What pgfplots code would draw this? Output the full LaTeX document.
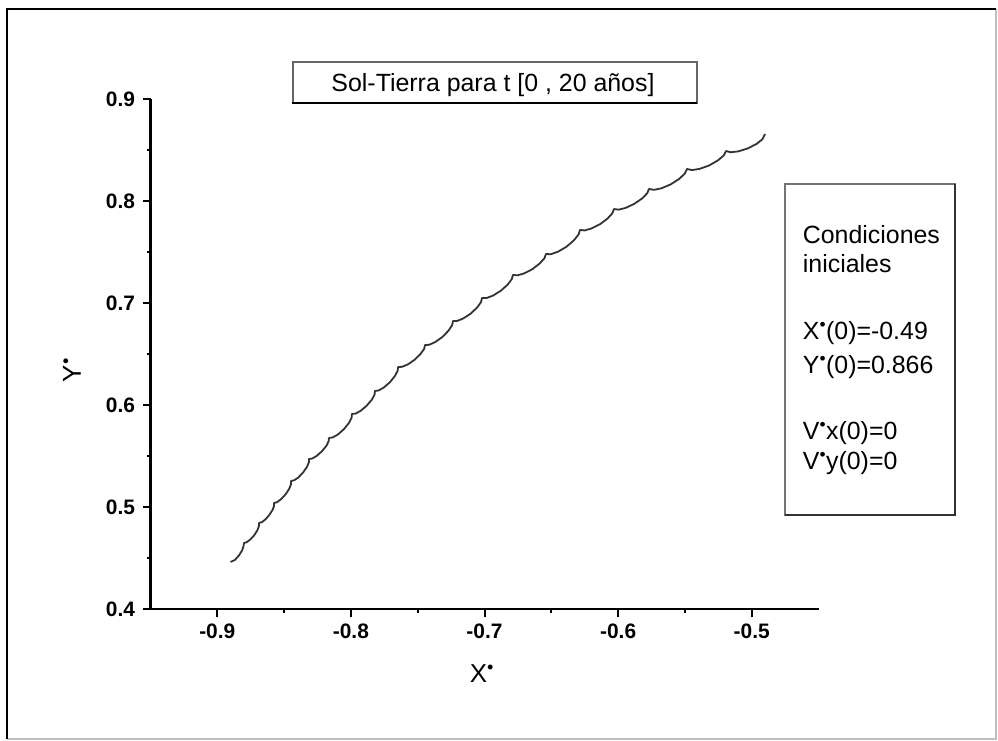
\documentclass[border=0pt]{standalone}
\usepackage{fontspec}
\setmainfont{Liberation Sans}
\usepackage{pgfplots}
\pgfplotsset{compat=1.18}

% dimensionless Sun-Earth trajectory, t in [0, 20 years]
\pgfplotstableread{
x y
-0.8901 0.4464
-0.8869 0.4483
-0.8839 0.4526
-0.8815 0.4576
-0.8804 0.4617
-0.8800 0.4650
-0.8780 0.4658
-0.8753 0.4684
-0.8723 0.4727
-0.8699 0.4777
-0.8688 0.4818
-0.8688 0.4846
-0.8667 0.4854
-0.8641 0.4880
-0.8611 0.4924
-0.8587 0.4973
-0.8575 0.5014
-0.8576 0.5042
-0.8553 0.5050
-0.8523 0.5079
-0.8489 0.5127
-0.8462 0.5181
-0.8448 0.5227
-0.8448 0.5258
-0.8425 0.5265
-0.8393 0.5293
-0.8358 0.5341
-0.8329 0.5396
-0.8314 0.5442
-0.8314 0.5474
-0.8289 0.5478
-0.8256 0.5504
-0.8217 0.5549
-0.8184 0.5602
-0.8167 0.5647
-0.8164 0.5679
-0.8136 0.5685
-0.8097 0.5714
-0.8053 0.5765
-0.8015 0.5826
-0.7995 0.5878
-0.7992 0.5915
-0.7964 0.5919
-0.7926 0.5947
-0.7882 0.5996
-0.7844 0.6054
-0.7823 0.6104
-0.7820 0.6140
-0.7791 0.6146
-0.7753 0.6175
-0.7708 0.6226
-0.7671 0.6287
-0.7650 0.6338
-0.7647 0.6376
-0.7618 0.6377
-0.7575 0.6400
-0.7523 0.6446
-0.7479 0.6503
-0.7452 0.6553
-0.7445 0.6591
-0.7414 0.6593
-0.7369 0.6620
-0.7315 0.6670
-0.7269 0.6732
-0.7242 0.6786
-0.7236 0.6826
-0.7204 0.6827
-0.7158 0.6852
-0.7103 0.6899
-0.7055 0.6959
-0.7026 0.7012
-0.7019 0.7052
-0.6986 0.7051
-0.6937 0.7075
-0.6879 0.7122
-0.6827 0.7182
-0.6796 0.7236
-0.6787 0.7278
-0.6753 0.7274
-0.6703 0.7293
-0.6641 0.7335
-0.6586 0.7391
-0.6551 0.7442
-0.6540 0.7483
-0.6504 0.7481
-0.6451 0.7505
-0.6387 0.7554
-0.6331 0.7617
-0.6296 0.7674
-0.6285 0.7719
-0.6251 0.7714
-0.6200 0.7733
-0.6136 0.7775
-0.6079 0.7831
-0.6043 0.7882
-0.6031 0.7924
-0.5996 0.7918
-0.5944 0.7935
-0.5879 0.7975
-0.5820 0.8028
-0.5782 0.8079
-0.5769 0.8121
-0.5732 0.8112
-0.5676 0.8127
-0.5606 0.8166
-0.5541 0.8221
-0.5500 0.8273
-0.5484 0.8317
-0.5448 0.8306
-0.5392 0.8317
-0.5319 0.8351
-0.5253 0.8401
-0.5209 0.8450
-0.5192 0.8493
-0.5158 0.8481
-0.5101 0.8489
-0.5030 0.8518
-0.4963 0.8563
-0.4919 0.8609
-0.4900 0.8660
}\orbit

\newcommand{\sdot}{\textsuperscript{\textbullet}}

\begin{document}
\begin{tikzpicture}[x=1bp,y=1bp]
\path[use as bounding box] (0,0) rectangle (998,741);
\fill[white] (0,0) rectangle (998,741);
% outer frame
\draw[black!25, line width=1.2bp] (7,2) -- (996,2) -- (996,732);
\draw[black, line width=2.4bp] (7,2) -- (7,732) -- (996,732);

\begin{axis}[
  at={(150.5bp,131.7bp)}, anchor=south west,
  scale only axis, width=668bp, height=510bp,
  xmin=-0.95, xmax=-0.45, ymin=0.4, ymax=0.9,
  axis x line*=bottom, axis y line*=left,
  axis line style={line width=2.2bp, -},
  x axis line style={-}, y axis line style={-},
  xtick={-0.9,-0.8,-0.7,-0.6,-0.5},
  xticklabels={-0.9,-0.8,-0.7,-0.6,-0.5},
  minor xtick={-0.85,-0.75,-0.65,-0.55},
  ytick={0.4,0.5,0.6,0.7,0.8,0.9},
  yticklabels={0.4,0.5,0.6,0.7,0.8,0.9},
  minor ytick={0.45,0.55,0.65,0.75,0.85},
  tick align=outside,
  major tick length=8bp, minor tick length=3.5bp,
  tick style={line width=2bp, black},
  ticklabel style={font=\bfseries\fontsize{21}{21}\selectfont},
  xticklabel style={yshift=-3bp},
  yticklabel style={xshift=-4bp},
]
\addplot[line width=1.8bp, black!80, line join=round] table {\orbit};
\end{axis}

% axis titles
\node[font=\fontsize{26}{26}\selectfont] at (482,67) {X\sdot};
\node[rotate=90, font=\fontsize{26}{26}\selectfont] at (72,371) {Y\sdot};

% title box
\draw[black!60, line width=1.5bp] (293,679) rectangle (697,638);
\draw[black, line width=2.2bp] (292,638) -- (697,638);
\node[anchor=base, font=\fontsize{25}{25}\selectfont] at (493,649.3) {Sol-Tierra para t [0 , 20 años]};

% initial conditions box
\draw[black!55, line width=1.6bp] (785,557) rectangle (955,226);
\draw[black!80, line width=2bp] (955,557) -- (955,226) -- (785,226);
\begin{scope}[every node/.style={anchor=base west, inner sep=0pt, font=\fontsize{25}{25}\selectfont}]
\node at (802.7,497) {Condiciones};
\node at (802.7,468.3) {iniciales};
\node at (802.7,401.7) {X\sdot(0)=-0.49};
\node at (802.7,367) {Y\sdot(0)=0.866};
\node at (802.7,301.7) {V\sdot x(0)=0};
\node at (802.7,271) {V\sdot y(0)=0};
\end{scope}
\end{tikzpicture}
\end{document}
